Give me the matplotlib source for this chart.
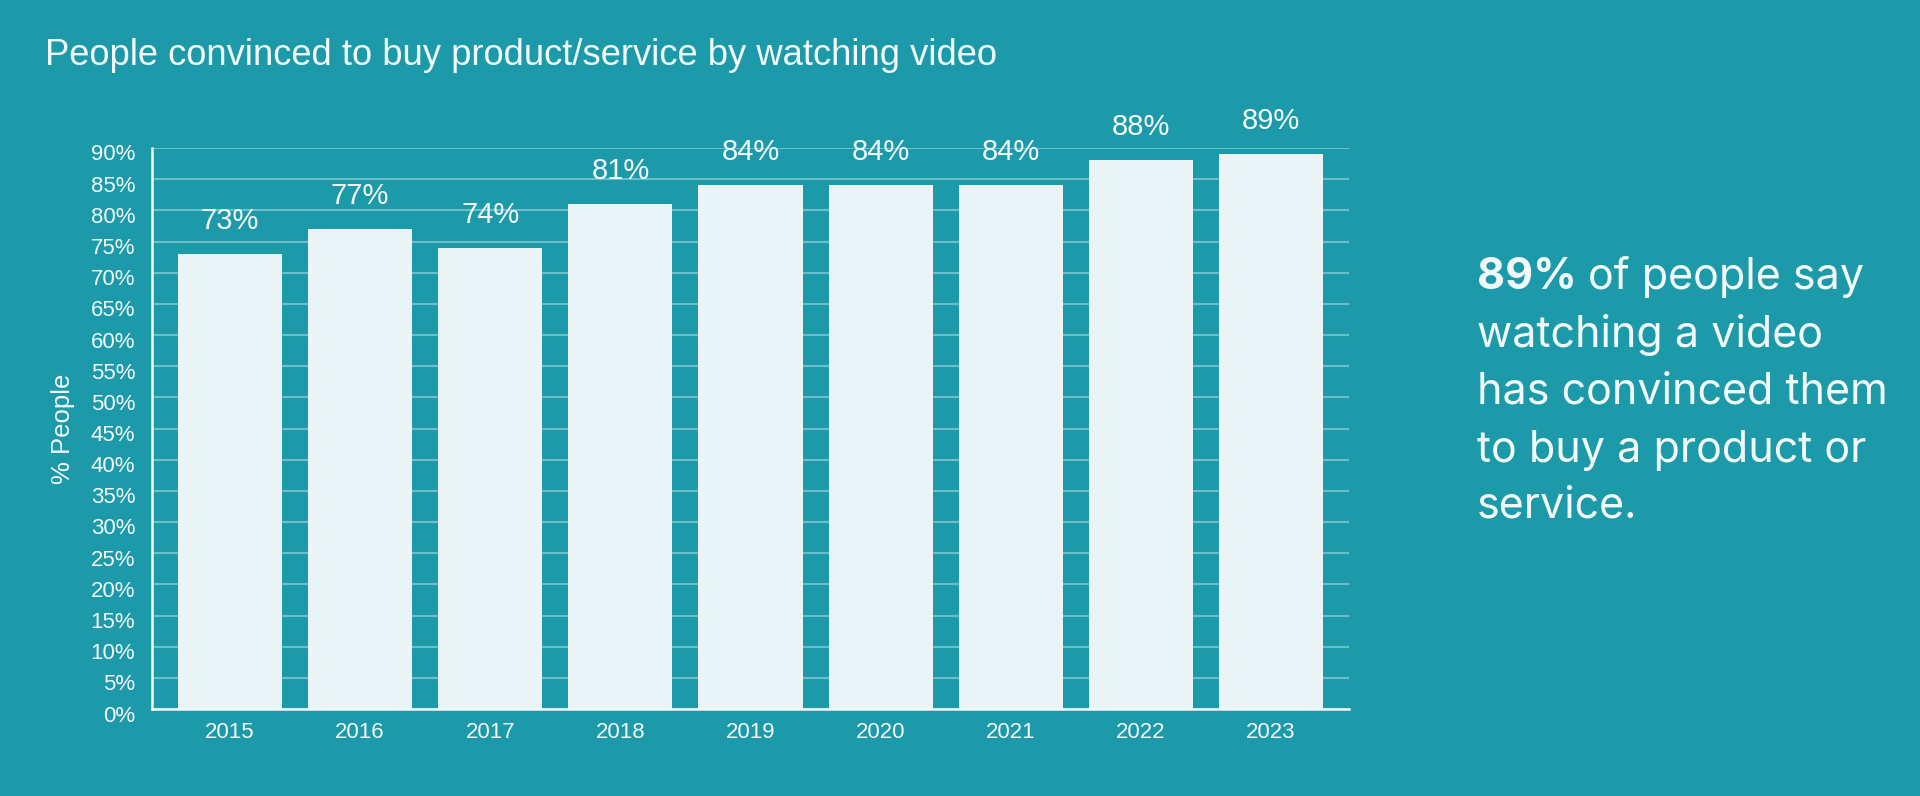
import matplotlib
matplotlib.use("Agg")
import matplotlib.pyplot as plt
from matplotlib.transforms import ScaledTranslation

# chart data
years = ["2015", "2016", "2017", "2018", "2019", "2020", "2021", "2022", "2023"]
values = [73, 77, 74, 81, 84, 84, 84, 88, 89]
y_ticks = list(range(0, 95, 5))
y_tick_labels = [f"{v}%" for v in y_ticks]

title = "People convinced to buy product/service by watching video"
y_label = "% People"
side_bold = "89%"
side_lines = ["of people say", "watching a video", "has convinced them",
              "to buy a product or", "service."]

BG = "#1c9aa9"
BAR = "#eaf3f6"
GRID = "#6cbfca"
TXT = "#f2f9fa"

plt.rcParams["font.family"] = ["Liberation Sans", "DejaVu Sans"]

fig = plt.figure(figsize=(19.2, 7.96), dpi=100, facecolor=BG)
ax = fig.add_axes([152 / 1920, 1 - 709 / 796, (1349 - 152) / 1920, (709 - 148) / 796])
ax.set_facecolor(BG)

x = list(range(len(years)))
bars = ax.bar(x, values, width=0.8, color=BAR, zorder=2)

for xi, v in zip(x, values):
    ax.annotate(f"{v}%", xy=(xi, v), xytext=(0, 18), textcoords="offset points",
                ha="center", va="baseline", fontsize=21, color=TXT)

ax.set_xlim(-0.6, len(years) - 0.4)
ax.set_ylim(0, 90)
ax.set_xticks(x)
ax.set_xticklabels(years)
ax.set_yticks(y_ticks)
ax.set_yticklabels(y_tick_labels)
ax.tick_params(axis="both", length=0, labelsize=16, labelcolor=TXT)
ax.tick_params(axis="y", pad=12)
ax.tick_params(axis="x", pad=9)

# y labels sit a little below their grid lines in the original
shift = ScaledTranslation(0, -4.5 / 100, fig.dpi_scale_trans)
for lbl in ax.get_yticklabels():
    lbl.set_transform(lbl.get_transform() + shift)

ax.grid(axis="y", color=GRID, linewidth=1.5, zorder=0)
ax.set_axisbelow(True)
for s in ["top", "right"]:
    ax.spines[s].set_visible(False)
for s in ["left", "bottom"]:
    ax.spines[s].set_color(TXT)
    ax.spines[s].set_linewidth(1.8)

ax.set_ylabel(y_label, fontsize=18.5, color=TXT)
ax.yaxis.set_label_coords(-0.064, 0.5)

fig.text(45 / 1920, 1 - 65 / 796, title, fontsize=26.2, color=TXT, va="baseline")

# side note in Inter
baselines = [289, 347, 404, 462, 518]
t_bold = fig.text(1477 / 1920, 1 - baselines[0] / 796, side_bold, fontsize=31,
                  family="Inter", weight="bold", color=TXT, va="baseline")
ax.annotate(side_lines[0], xy=(1, 0), xycoords=t_bold, xytext=(8, 0),
            textcoords="offset points", fontsize=31, family="Inter",
            color=TXT, ha="left", va="bottom")
for line, b in zip(side_lines[1:], baselines[1:]):
    fig.text(1477 / 1920, 1 - b / 796, line, fontsize=31, family="Inter",
             color=TXT, va="baseline")

fig.savefig("out.png", dpi=100, facecolor=BG)
